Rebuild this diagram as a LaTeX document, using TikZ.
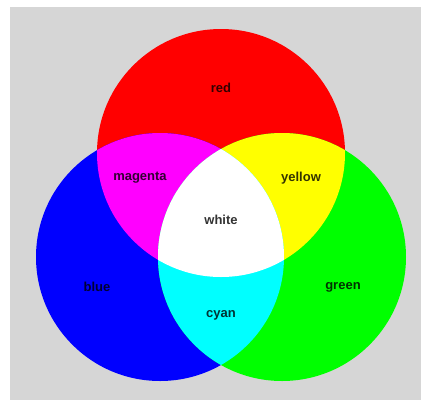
\documentclass[tikz,border=0pt]{standalone}
\usepackage{fontspec}
\setmainfont{Liberation Sans}
\definecolor{bg}{HTML}{D6D6D6}
\definecolor{cR}{RGB}{255,0,0}
\definecolor{cG}{RGB}{0,255,0}
\definecolor{cB}{RGB}{0,0,255}
\definecolor{cM}{RGB}{255,0,255}
\definecolor{cY}{RGB}{255,255,0}
\definecolor{cC}{RGB}{0,255,255}
\begin{document}
\begin{tikzpicture}[x=1pt,y=-1pt,
  lbl/.style={font=\fontsize{13}{15}\selectfont\bfseries, text=black, text opacity=0.8, inner sep=0pt}]
\useasboundingbox (0,0) rectangle (421,400);
\fill[white] (0,0) rectangle (421,400);
\fill[bg] (10,7) rectangle (421,400);
\def\R{124}
\coordinate (cr) at (221,153);
\coordinate (cb) at (160,257);
\coordinate (cg) at (282,257);
% base circles
\fill[cR] (cr) circle (\R);
\fill[cB] (cb) circle (\R);
\fill[cG] (cg) circle (\R);
% pairwise overlaps
\begin{scope}
  \clip (cr) circle (\R);
  \fill[cM] (cb) circle (\R);
  \fill[cY] (cg) circle (\R);
\end{scope}
\begin{scope}
  \clip (cb) circle (\R);
  \fill[cC] (cg) circle (\R);
\end{scope}
\begin{scope}
  \clip (cr) circle (\R);
  \clip (cb) circle (\R);
  \fill[white] (cg) circle (\R);
\end{scope}
% labels
\node[lbl] (lred) at (221,88) {red};
\node[lbl] (lmag) at (140,178) {magenta};
\node[lbl] (lyel) at (301,178) {yellow};
\node[lbl] (lwhi) at (221,220) {white};
\node[lbl] (lblu) at (97,287) {blue};
\node[lbl] (lgrn) at (343,287) {green};
\node[lbl] (lcya) at (221,315) {cyan};
\end{tikzpicture}
\end{document}
